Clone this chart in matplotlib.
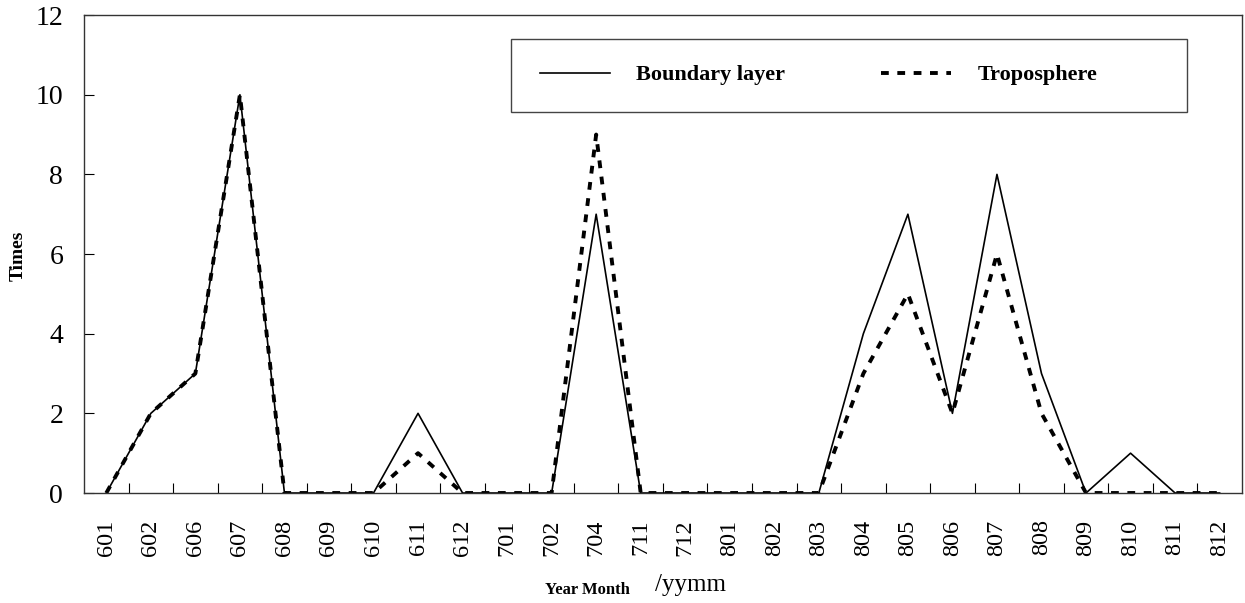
import matplotlib.pyplot as plt
from matplotlib.patches import Rectangle

# year-month codes along the x axis
months = ["601", "602", "606", "607", "608", "609", "610", "611", "612",
          "701", "702", "704", "711", "712", "801", "802", "803", "804",
          "805", "806", "807", "808", "809", "810", "811", "812"]
boundary = [0, 2, 3, 10, 0, 0, 0, 2, 0, 0, 0, 7, 0, 0, 0, 0, 0, 4,
            7, 2, 8, 3, 0, 1, 0, 0]
troposphere = [0, 2, 3, 10, 0, 0, 0, 1, 0, 0, 0, 9, 0, 0, 0, 0, 0, 3,
               5, 2, 6, 2, 0, 0, 0, 0]

serif = "Liberation Serif"

fig = plt.figure(figsize=(12.45, 6.03), dpi=100)
ax = fig.add_axes([0.0675, 0.1824, 0.930, 0.7926])

x = list(range(len(months)))
ax.plot(x, boundary, color="black", linewidth=1.2, label="Boundary layer")
ax.plot(x, troposphere, color="black", linewidth=2.8,
        linestyle=(0, (2.0, 2.2)), label="Troposphere")

ax.set_xlim(-0.5, len(months) - 0.5)
ax.set_ylim(0, 12)
ax.set_yticks(range(0, 13, 2))
ax.set_xticks(x)
ax.set_xticklabels(months, rotation=90, fontfamily=serif, fontsize=17.5)
ax.set_xticks([i + 0.5 for i in range(len(months) - 1)], minor=True)
ax.tick_params(axis="x", which="major", length=0, pad=19)
ax.tick_params(axis="x", which="minor", direction="in", length=7, width=0.8)
ax.tick_params(axis="y", direction="in", length=7, width=0.8, pad=15)
for lab in ax.get_yticklabels():
    lab.set_fontfamily(serif)
    lab.set_fontsize(20)
for s in ax.spines.values():
    s.set_linewidth(1.0)
    s.set_color("#333333")

# legend box drawn separately, legend itself without frame
ax.add_patch(Rectangle((0.369, 0.797), 0.5836, 0.153, transform=ax.transAxes,
                       fill=False, edgecolor="#444444", linewidth=1.0,
                       zorder=5))
ax.legend(loc="center left", bbox_to_anchor=(0.3934, 0.8745), ncol=2,
          frameon=False, borderpad=0, borderaxespad=0, handlelength=3.15,
          handletextpad=1.2, columnspacing=4.3,
          prop={"family": serif, "weight": "bold", "size": 16})

fig.text(0.015, 0.575, "Times", rotation=90, ha="center", va="center",
         fontfamily=serif, fontweight="bold", fontsize=14)
fig.text(0.506, 0.022, "Year Month", ha="right", va="center",
         fontfamily=serif, fontweight="bold", fontsize=12)
fig.text(0.526, 0.030, "/yymm", ha="left", va="center",
         fontfamily=serif, fontsize=18)

fig.savefig("out.png", dpi=100)
